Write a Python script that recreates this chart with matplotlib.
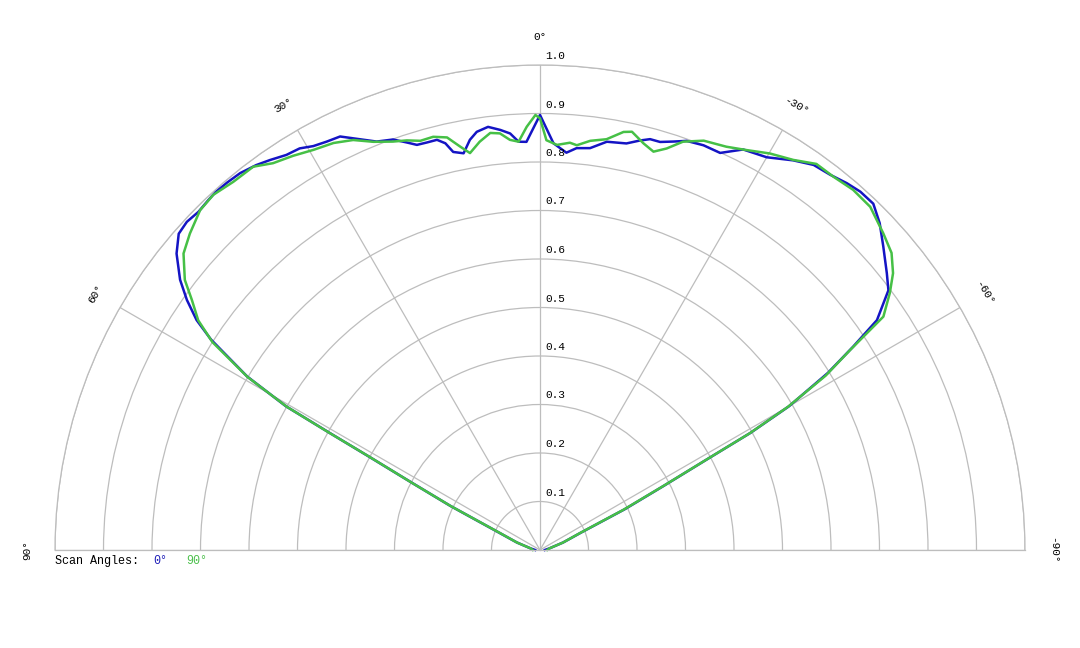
import numpy as np
import matplotlib
matplotlib.use("Agg")
import matplotlib.pyplot as plt
from matplotlib.transforms import offset_copy

# scan angle 0 deg (blue): angle [deg], normalised value
ang_0 = [-90, -80, -72, -67, -64.3, -62.6, -61.5, -60.9, -60.0, -58.4, -57.0, -55.7,
         -53.3, -51.4, -48.5, -46.1, -43.9, -41.8, -39.9, -37.7, -35.4, -33.0, -30.0,
         -26.9, -24.4, -22.0, -19.7, -18.1, -16.4, -15.0, -13.7, -12.0, -9.3, -7.1,
         -5.2, -3.8, -1.9, 0, 1.9, 3.0, 4.1, 5.4, 7.0, 8.6, 9.7, 10.9, 12.3, 13.1,
         14.1, 15.5, 16.9, 18.1, 19.7, 21.8, 23.7, 25.8, 27.6, 29.3, 30.9, 32.7, 34.7,
         36.4, 38.5, 40.4, 42.2, 43.5, 45.3, 47.1, 48.8, 50.8, 53.1, 54.7, 56.2, 57.4,
         59.35, 60.5, 60.9, 61.35, 62.3, 63.8, 67, 72, 80, 90]
val_0 = [0.01, 0.02, 0.05, 0.092, 0.194, 0.287, 0.392, 0.497, 0.593, 0.697, 0.77, 0.841,
         0.896, 0.915, 0.945, 0.972, 0.991, 0.991, 0.986, 0.978, 0.974, 0.958, 0.935,
         0.926, 0.899, 0.900, 0.896, 0.886, 0.877, 0.877, 0.869, 0.857, 0.853, 0.835,
         0.832, 0.821, 0.839, 0.897, 0.842, 0.843, 0.861, 0.870, 0.879, 0.872, 0.858,
         0.833, 0.840, 0.861, 0.872, 0.872, 0.873, 0.884, 0.899, 0.907, 0.925, 0.947,
         0.950, 0.955, 0.965, 0.968, 0.978, 0.986, 0.993, 0.995, 0.996, 0.994, 0.991,
         0.994, 0.99, 0.967, 0.928, 0.892, 0.852, 0.805, 0.702, 0.602, 0.497, 0.404,
         0.299, 0.206, 0.092, 0.05, 0.02, 0.01]

# scan angle 90 deg (green)
ang_90 = [-90, -80, -72, -67, -64.3, -62.6, -61.5, -60.9, -60.0, -58.6, -57.2, -55.8,
          -53.7, -51.9, -49.8, -47.3, -43.9, -41.0, -38.2, -35.6, -33.0, -30.1, -27.3,
          -24.8, -21.8, -19.3, -17.5, -15.9, -14.3, -12.4, -11.3, -9.2, -7.0, -5.2,
          -4.2, -2.4, -0.9, 0.0, 0.6, 1.8, 3.0, 4.2, 5.5, 6.8, 8.4, 10.0, 11.2, 12.7,
          14.5, 16.3, 18.0, 19.8, 22.2, 24.5, 26.9, 29.5, 32.05, 34.6, 36.8, 39.8,
          42.6, 45.0, 47.9, 50.25, 52.75, 54.3, 56.1, 57.6, 59.4, 60.5, 60.9, 61.35,
          62.3, 63.8, 67, 72, 80, 90]
val_90 = [0.015, 0.02, 0.05, 0.09, 0.19, 0.285, 0.39, 0.495, 0.59, 0.69, 0.76, 0.856,
          0.895, 0.925, 0.949, 0.963, 0.982, 0.984, 0.979, 0.979, 0.959, 0.945, 0.928,
          0.916, 0.909, 0.892, 0.868, 0.854, 0.865, 0.883, 0.879, 0.858, 0.850, 0.838,
          0.842, 0.836, 0.845, 0.89, 0.897, 0.873, 0.843, 0.848, 0.863, 0.866, 0.851,
          0.831, 0.848, 0.872, 0.880, 0.879, 0.888, 0.895, 0.909, 0.929, 0.941, 0.948,
          0.959, 0.969, 0.987, 0.988, 0.995, 0.991, 0.973, 0.956, 0.920, 0.884, 0.849,
          0.80, 0.70, 0.60, 0.50, 0.40, 0.30, 0.205, 0.09, 0.05, 0.02, 0.015]

r_ticks = [0.1, 0.2, 0.3, 0.4, 0.5, 0.6, 0.7, 0.8, 0.9, 1.0]
a_ticks = [-90, -60, -30, 0, 30, 60, 90]

BLUE = '#1414c4'
GREEN = '#46c046'
GRID = '#bdbdbd'
FONT = 'Liberation Mono'


def th(deg):
    # scan angle 0 points up, positive angles to the left
    return np.deg2rad(np.asarray(deg, dtype=float) + 90)


fig = plt.figure(figsize=(10.8, 6.48), dpi=100)
W, H = 1080, 648
cx, cy, R = 540, 550, 485
# polar wedge is padded to a square, the half disk sits in the middle half
side = 2 * R
ax = fig.add_axes([(cx - R) / W, (H - (cy + side / 4)) / H, side / W, side / H],
                  projection='polar')
ax.set_thetamin(0)
ax.set_thetamax(180)
ax.set_ylim(0, 1.0)

ax.set_rgrids(r_ticks, labels=[''] * len(r_ticks))
ax.set_thetagrids(np.array(a_ticks) + 90, labels=[''] * len(a_ticks))
ax.grid(True, color=GRID, lw=0.9)
for sp in ax.spines.values():
    sp.set_color(GRID)
    sp.set_linewidth(0.9)
ax.patch.set_alpha(0)

ax.plot(th(ang_0), val_0, color=BLUE, lw=1.8, clip_on=False)
ax.plot(th(ang_90), val_90, color=GREEN, lw=1.8, clip_on=False)

# radial labels just right of the 0 deg spoke, above each circle
tr = offset_copy(ax.transData, fig=fig, x=5, y=4, units='dots')
for r in r_ticks:
    ax.text(th(0), r, f'{r:.1f}', transform=tr, ha='left', va='bottom',
            fontsize=8, family=FONT, clip_on=False)

# angle labels outside the outer arc
for a in a_ticks:
    ax.text(th(a), 1.058, f'{a}°', rotation=a, rotation_mode='anchor',
            ha='center', va='center', fontsize=8, family=FONT, clip_on=False)

ly = 1 - 561 / H
fig.text(55 / W, ly, 'Scan Angles:', fontsize=8.5, family=FONT, va='center')
fig.text(153 / W, ly, '0°', fontsize=8.5, family=FONT, va='center', color='#2020b8')
fig.text(186 / W, ly, '90°', fontsize=8.5, family=FONT, va='center', color='#4cc04c')

fig.savefig('out.png', dpi=100)
